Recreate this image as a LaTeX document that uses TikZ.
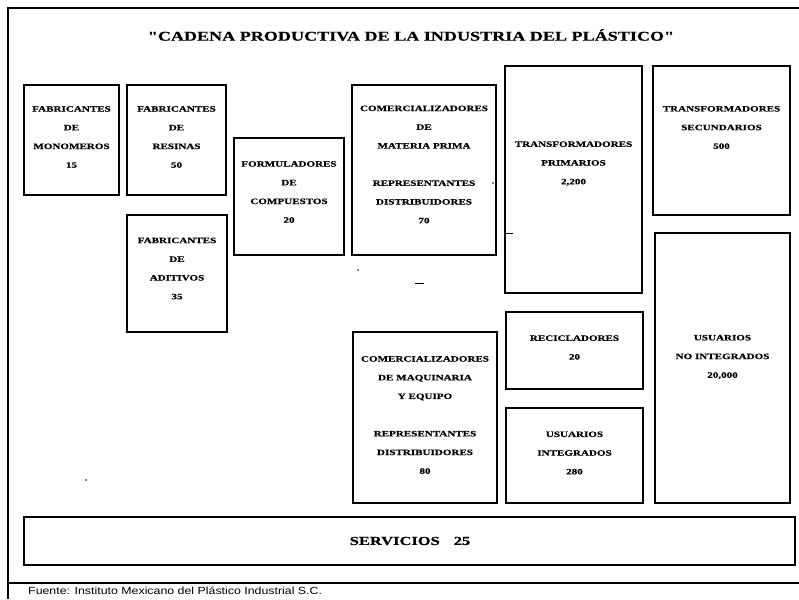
\documentclass[tikz,border=0pt]{standalone}
\usepackage{fontspec}
\setmainfont{Liberation Serif}
\newfontfamily\boxfont[FakeStretch=1.35,FakeBold=0.6]{Liberation Serif Bold}
\newfontfamily\footfont[FakeStretch=1.2]{Liberation Sans}
\begin{document}
\begin{tikzpicture}[x=1pt,y=-1pt,
  box/.style={draw=black, line width=1.5pt, inner sep=0pt},
  txt/.style={font=\boxfont\fontsize{8.2}{18.7}\selectfont, align=center, inner sep=0pt},
  frame/.style={line width=1.2pt}]
\useasboundingbox (0,0) rectangle (799,599);
\fill[white] (0,0) rectangle (799,599);
% outer frame
\draw[frame] (8,599) -- (8,8) -- (799,8);
\draw[frame] (8,583) -- (799,583);
% title
\node[font=\boxfont\fontsize{13.4}{16}\selectfont, inner sep=0pt] (title) at (411,35) {"CADENA PRODUCTIVA DE LA INDUSTRIA DEL PLÁSTICO"};
% boxes
\node[box, minimum width=95pt, minimum height=110pt] (mono) at (71.5,140) {};
\node[box, minimum width=99pt, minimum height=110pt] (resi) at (176.5,140) {};
\node[box, minimum width=100pt, minimum height=117pt] (adit) at (177,273.5) {};
\node[box, minimum width=110pt, minimum height=117pt] (form) at (289,196.5) {};
\node[box, minimum width=144pt, minimum height=170pt] (comp) at (424,170) {};
\node[box, minimum width=137pt, minimum height=227pt] (tpri) at (573.5,179.5) {};
\node[box, minimum width=137pt, minimum height=149pt] (tsec) at (721.5,140.5) {};
\node[box, minimum width=135pt, minimum height=270pt] (unoi) at (722.5,368) {};
\node[box, minimum width=137pt, minimum height=77pt] (reci) at (574.5,350.5) {};
\node[box, minimum width=137pt, minimum height=95pt] (uint) at (574.5,455.5) {};
\node[box, minimum width=144pt, minimum height=171pt] (cmaq) at (425,417.5) {};
\node[box, minimum width=771pt, minimum height=48pt] (serv) at (409.5,541) {};
% texts
\node[txt] (monoT) at (71.5,137) {FABRICANTES\\DE\\MONOMEROS\\15};
\node[txt] (resiT) at (176.5,137) {FABRICANTES\\DE\\RESINAS\\50};
\node[txt] (aditT) at (177,268.5) {FABRICANTES\\DE\\ADITIVOS\\35};
\node[txt] (formT) at (289,192) {FORMULADORES\\DE\\COMPUESTOS\\20};
\node[txt] (compT) at (424,164.5) {COMERCIALIZADORES\\DE\\MATERIA PRIMA\\[18.7pt]REPRESENTANTES\\DISTRIBUIDORES\\70};
\node[txt] (tpriT) at (573.5,163.5) {TRANSFORMADORES\\PRIMARIOS\\2,200};
\node[txt] (tsecT) at (721.5,127.5) {TRANSFORMADORES\\SECUNDARIOS\\500};
\node[txt] (unoiT) at (722.5,357) {USUARIOS\\NO INTEGRADOS\\20,000};
\node[txt] (reciT) at (574.5,347.5) {RECICLADORES\\20};
\node[txt] (uintT) at (574.5,453) {USUARIOS\\INTEGRADOS\\280};
\node[txt] (cmaqT) at (425,415) {COMERCIALIZADORES\\DE MAQUINARIA\\Y EQUIPO\\[18.7pt]REPRESENTANTES\\DISTRIBUIDORES\\80};
\node[font=\boxfont\fontsize{12.2}{14}\selectfont, inner sep=0pt] (servT) at (410,541) {SERVICIOS\hspace{14pt}25};
% footer
\node[font=\footfont\fontsize{10.3}{12}\selectfont, anchor=base west, inner sep=0pt] (foot) at (28,594) {Fuente: Instituto Mexicano del Plástico Industrial S.C.};
% small scan marks
\fill (358,270) circle (0.9);
\fill (86,480) circle (0.9);
\fill (493,183) circle (0.8);
\draw[line width=1pt] (415,283) -- (424,283);
\draw[line width=1pt] (tpri.west |- 0,233) -- ++(9,0);
\end{tikzpicture}
\end{document}
